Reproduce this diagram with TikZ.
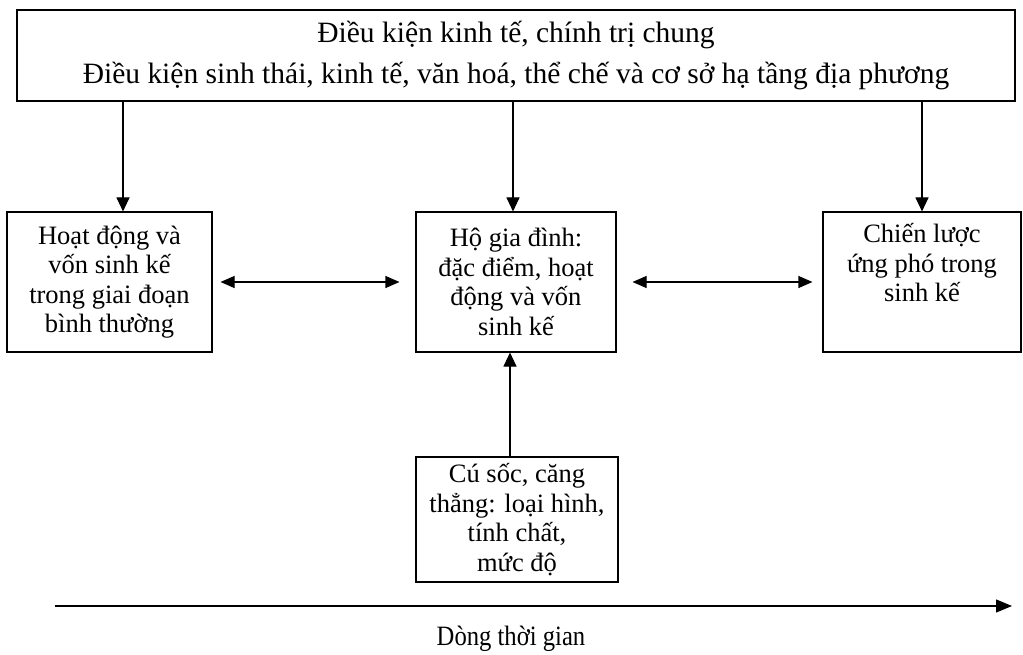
\documentclass[tikz,border=0pt]{standalone}
\usepackage{fontspec}
\setmainfont{Liberation Serif}
\usetikzlibrary{arrows.meta}
\begin{document}
\begin{tikzpicture}[x=1pt,y=1pt,
  box/.style={draw, line width=1.1pt, align=center, inner sep=0pt,
    font=\fontsize{26.5}{29.5}\selectfont},
  link/.style={line width=1.1pt, -{Triangle[length=14pt,width=13pt]}},
  both/.style={line width=1.1pt, {Triangle[length=14pt,width=12pt]}-{Triangle[length=14pt,width=12pt]}}]
\useasboundingbox (0,0) rectangle (1023,-655);
\node[box, minimum width=998pt, minimum height=91pt, font=\fontsize{29.5}{41}\selectfont] (T) at (516,-55.5)
  {Điều kiện kinh tế, chính trị chung\\Điều kiện sinh thái, kinh tế, văn hoá, thể chế và cơ sở hạ tầng địa phương};
\node[box, minimum width=205pt, minimum height=140pt] (L) at (109.5,-282)
  {Hoạt động và\\vốn sinh kế\\trong giai đoạn\\bình thường};
\node[box, minimum width=200pt, minimum height=140pt] (M) at (516,-282)
  {Hộ gia đình:\\đặc điểm, hoạt\\động và vốn\\sinh kế};
\node[box, minimum width=198pt, minimum height=140pt] (R) at (922,-282)
  {Chiến lược\\ứng phó trong\\sinh kế\\\strut};
\node[box, minimum width=202pt, minimum height=125pt] (B) at (517,-519.5)
  {Cú sốc, căng\\thẳng: loại hình,\\tính chất,\\mức độ};
\draw[link] ([xshift=13.5pt]L.north |- T.south) -- ([xshift=13.5pt]L.north);
\draw[link] ([xshift=-3pt]M.north |- T.south) -- ([xshift=-3pt]M.north);
\draw[link] (R.north |- T.south) -- (R.north);
\draw[link] ([xshift=-7pt]B.north) -- ([xshift=-7pt]B.north |- M.south);
\draw[both, shorten <=8pt, shorten >=16pt] (L.east) -- (M.west);
\draw[both, shorten <=16pt, shorten >=10pt] (M.east) -- (R.west);
\coordinate (t0) at (55,-606);
\coordinate (t1) at (1012,-606);
\draw[line width=1.1pt, -{Triangle[length=16pt,width=13pt]}] (t0) -- (t1);
\node[font=\fontsize{28}{30}\selectfont, xscale=0.88, transform shape] (lbl) at (511,-639) {Dòng thời gian};
\end{tikzpicture}
\end{document}
